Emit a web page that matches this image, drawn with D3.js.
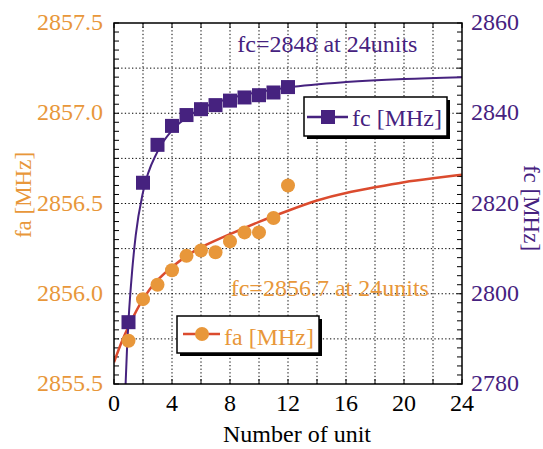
<!DOCTYPE html>
<html>
<head>
<meta charset="utf-8">
<script src="https://cdn.jsdelivr.net/npm/d3@7"></script>
<style>
  body { margin: 0; background: #fff; }
  text { font-family: "Liberation Serif", "Times New Roman", serif; }
</style>
</head>
<body>
<div id="chart"></div>
<script>
// measured points
const units = [1, 2, 3, 4, 5, 6, 7, 8, 9, 10, 11, 12]
const faValues = [2855.74, 2855.97, 2856.05, 2856.13, 2856.21, 2856.24, 2856.23, 2856.29, 2856.34, 2856.34, 2856.42, 2856.60]
const fcValues = [2793.7, 2824.6, 2833.0, 2837.2, 2839.6, 2840.9, 2841.8, 2842.8, 2843.5, 2844.0, 2844.6, 2845.8]

// fitted curves
const faFitUnits = [0, 0.5, 1, 2, 3, 4, 5, 6, 8, 10, 12, 14, 16, 18, 20, 22, 24]
const faFitValues = [2855.62, 2855.73, 2855.82, 2855.98, 2856.08, 2856.15, 2856.21, 2856.26, 2856.33, 2856.40, 2856.46, 2856.52, 2856.56, 2856.59, 2856.62, 2856.64, 2856.66]
const fcFitUnits = [0.75, 0.9, 1, 1.25, 1.5, 2, 3, 4, 5, 6, 8, 10, 12, 16, 20, 24]
const fcFitValues = [2776, 2788, 2794, 2805, 2813, 2822.5, 2831.5, 2836.2, 2839, 2841, 2843.3, 2844.7, 2845.7, 2846.9, 2847.6, 2848]

const xTicks = [0, 4, 8, 12, 16, 20, 24]
const faTicks = [2855.5, 2856.0, 2856.5, 2857.0, 2857.5]
const fcTicks = [2780, 2800, 2820, 2840, 2860]

const faNote = 'fc=2856.7 at 24units'
const fcNote = 'fc=2848 at 24units'

;(function () {

  const margin = { top: 23, right: 81, bottom: 65, left: 114 }
  const width = 543 - margin.left - margin.right
  const height = 449 - margin.top - margin.bottom

  const orange = '#e8973a'
  const purple = '#46227f'
  const red = '#db4b2e'

  const svg = d3.select('#chart').append('svg')
      .attr('width', width + margin.left + margin.right)
      .attr('height', height + margin.top + margin.bottom)
      .append('g')
      .attr('transform', 'translate(' + margin.left + ',' + margin.top + ')')

  const xPositionScale = d3.scaleLinear().domain([0, 24]).range([0, width])
  const faScale = d3.scaleLinear().domain([2855.5, 2857.5]).range([height, 0])
  const fcScale = d3.scaleLinear().domain([2780, 2860]).range([height, 0])

  svg.append('clipPath').attr('id', 'plot-clip')
    .append('rect').attr('width', width).attr('height', height)

  // dotted grid
  svg.append('g')
    .selectAll('line')
    .data(d3.range(2, 24, 2))
    .join('line')
    .attr('x1', d => xPositionScale(d)).attr('x2', d => xPositionScale(d))
    .attr('y1', 0).attr('y2', height)
    .attr('stroke', '#000').attr('stroke-width', 1).attr('stroke-dasharray', '1.3,2.3')

  svg.append('g')
    .selectAll('line')
    .data(d3.range(2855.75, 2857.5, 0.25))
    .join('line')
    .attr('x1', 0).attr('x2', width)
    .attr('y1', d => faScale(d)).attr('y2', d => faScale(d))
    .attr('stroke', '#000').attr('stroke-width', 1).attr('stroke-dasharray', '1.3,2.3')

  // inner ticks on every side
  const ticks = svg.append('g').attr('stroke', '#000').attr('stroke-width', 1)
  ticks.selectAll('.tl')
    .data(d3.range(2855.5, 2857.51, 0.05))
    .join('line')
    .attr('x1', 0).attr('x2', 5)
    .attr('y1', d => faScale(d)).attr('y2', d => faScale(d))
  ticks.selectAll('.tr')
    .data(d3.range(2780, 2861, 2))
    .join('line')
    .attr('class', 'tr')
    .attr('x1', width - 5).attr('x2', width)
    .attr('y1', d => fcScale(d)).attr('y2', d => fcScale(d))
  ticks.selectAll('.tb')
    .data(d3.range(0, 25, 2))
    .join('line')
    .attr('class', 'tb')
    .attr('x1', d => xPositionScale(d)).attr('x2', d => xPositionScale(d))
    .attr('y1', height).attr('y2', height - 5)
  ticks.selectAll('.tt')
    .data(d3.range(0, 25, 2))
    .join('line')
    .attr('class', 'tt')
    .attr('x1', d => xPositionScale(d)).attr('x2', d => xPositionScale(d))
    .attr('y1', 0).attr('y2', 5)

  // notes
  svg.append('text')
    .attr('x', xPositionScale(8.5)).attr('y', fcScale(2853.5))
    .attr('fill', purple).attr('font-size', 24)
    .text(fcNote)

  svg.append('text')
    .attr('x', xPositionScale(8.05)).attr('y', faScale(2856.0) + 2)
    .attr('fill', orange).attr('font-size', 24)
    .text(faNote)

  // fit curves
  const fits = svg.append('g').attr('clip-path', 'url(#plot-clip)')

  const faLine = d3.line()
    .x((d, i) => xPositionScale(faFitUnits[i]))
    .y(d => faScale(d))
    .curve(d3.curveBasis)
  fits.append('path')
    .datum(faFitValues)
    .attr('d', faLine)
    .attr('fill', 'none').attr('stroke', red).attr('stroke-width', 2.5)

  const fcLine = d3.line()
    .x((d, i) => xPositionScale(fcFitUnits[i]))
    .y(d => fcScale(d))
    .curve(d3.curveMonotoneX)
  fits.append('path')
    .datum(fcFitValues)
    .attr('d', fcLine)
    .attr('fill', 'none').attr('stroke', purple).attr('stroke-width', 2)

  // points
  svg.append('g')
    .selectAll('circle')
    .data(faValues)
    .join('circle')
    .attr('cx', (d, i) => xPositionScale(units[i]))
    .attr('cy', d => faScale(d))
    .attr('r', 7)
    .attr('fill', orange)

  svg.append('g')
    .selectAll('rect')
    .data(fcValues)
    .join('rect')
    .attr('x', (d, i) => xPositionScale(units[i]) - 7)
    .attr('y', d => fcScale(d) - 7)
    .attr('width', 14).attr('height', 14)
    .attr('fill', purple)

  // frame
  svg.append('rect')
    .attr('width', width).attr('height', height)
    .attr('fill', 'none').attr('stroke', '#000').attr('stroke-width', 1.5)

  // legends with drop shadow
  function legendBox (x, y, w, h) {
    const g = svg.append('g').attr('transform', 'translate(' + x + ',' + y + ')')
    g.append('rect').attr('x', 3).attr('y', 3).attr('width', w).attr('height', h).attr('fill', '#000')
    g.append('rect').attr('width', w).attr('height', h)
      .attr('fill', '#fff').attr('stroke', '#000').attr('stroke-width', 1.5)
    return g
  }

  const fcLegend = legendBox(190, 74, 143, 39)
  fcLegend.append('line').attr('x1', 3).attr('x2', 44).attr('y1', 20).attr('y2', 20)
    .attr('stroke', purple).attr('stroke-width', 2.5)
  fcLegend.append('rect').attr('x', 17).attr('y', 13).attr('width', 14).attr('height', 14).attr('fill', purple)
  fcLegend.append('text').attr('x', 48).attr('y', 29)
    .attr('fill', purple).attr('font-size', 24).text('fc [MHz]')

  const faLegend = legendBox(63, 293, 142, 37)
  faLegend.append('line').attr('x1', 6).attr('x2', 43).attr('y1', 18).attr('y2', 18)
    .attr('stroke', red).attr('stroke-width', 2.5)
  faLegend.append('circle').attr('cx', 25).attr('cy', 18).attr('r', 7).attr('fill', orange)
  faLegend.append('text').attr('x', 47).attr('y', 29)
    .attr('fill', orange).attr('font-size', 24).text('fa [MHz]')

  // axis labels
  svg.append('g')
    .selectAll('text')
    .data(faTicks)
    .join('text')
    .attr('x', -11).attr('y', d => faScale(d))
    .attr('dy', '0.3em')
    .attr('text-anchor', 'end')
    .attr('fill', orange).attr('font-size', 24)
    .text(d => d3.format('.1f')(d))

  svg.append('g')
    .selectAll('text')
    .data(fcTicks)
    .join('text')
    .attr('x', width + 9).attr('y', d => fcScale(d))
    .attr('dy', '0.3em')
    .attr('fill', purple).attr('font-size', 24)
    .text(d => d)

  svg.append('g')
    .selectAll('text')
    .data(xTicks)
    .join('text')
    .attr('x', d => xPositionScale(d)).attr('y', height + 27)
    .attr('text-anchor', 'middle')
    .attr('font-size', 24)
    .text(d => d)

  svg.append('text')
    .attr('x', width / 2 + 9).attr('y', height + 58)
    .attr('text-anchor', 'middle')
    .attr('font-size', 24)
    .text('Number of unit')

  svg.append('text')
    .attr('transform', 'translate(' + (31 - margin.left) + ',' + (195 - margin.top) + ') rotate(-90)')
    .attr('text-anchor', 'middle')
    .attr('fill', orange).attr('font-size', 23)
    .text('fa [MHz]')

  svg.append('text')
    .attr('transform', 'translate(' + (524 - margin.left) + ',' + (208 - margin.top) + ') rotate(90)')
    .attr('text-anchor', 'middle')
    .attr('fill', purple).attr('font-size', 23)
    .text('fc [MHz]')

})();
</script>
</body>
</html>
